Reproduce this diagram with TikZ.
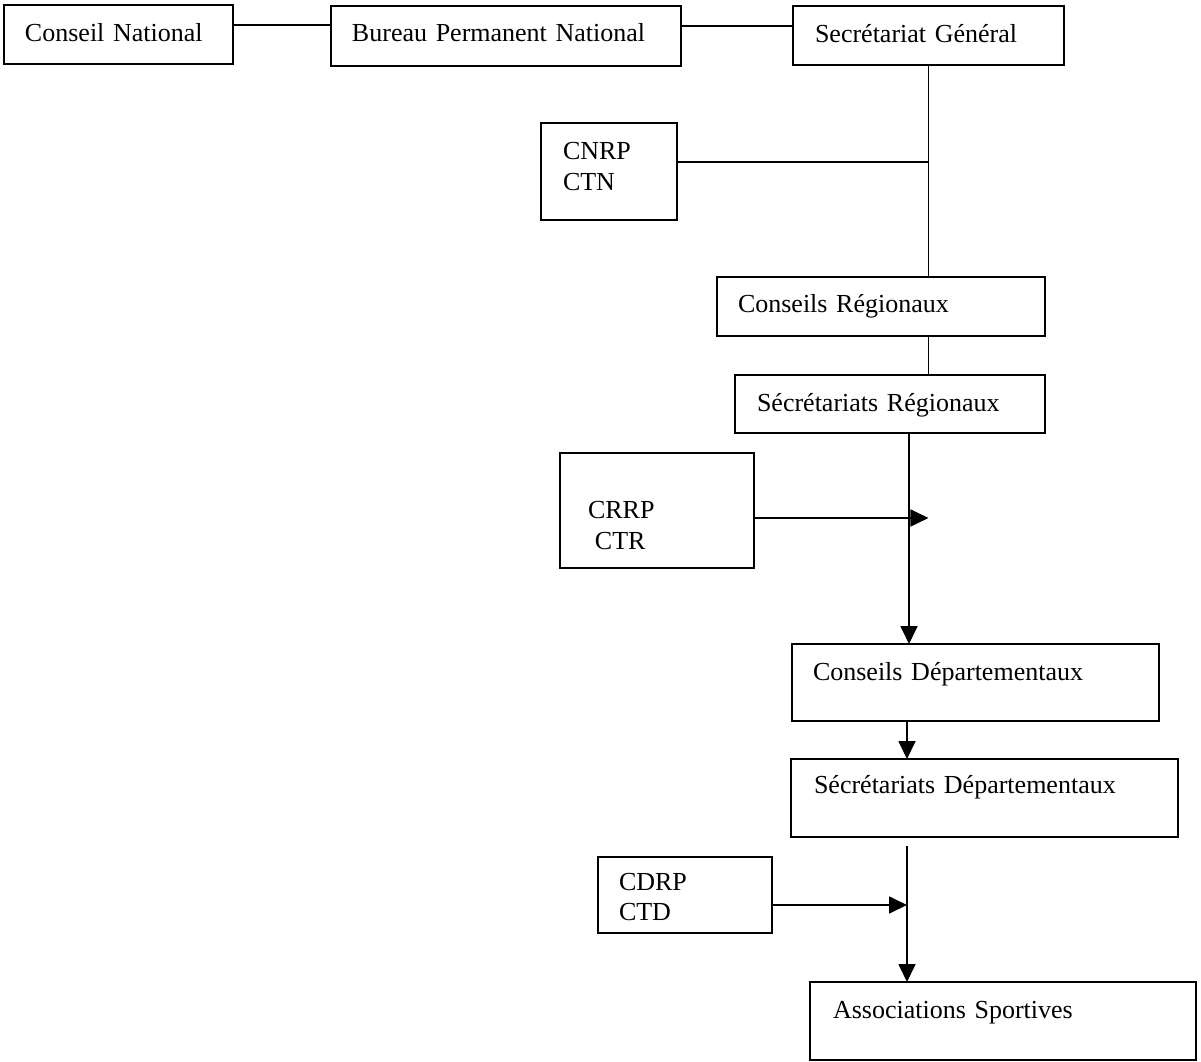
\documentclass[tikz,border=0pt]{standalone}
\usepackage{fontspec}
\newfontfamily\boxfont{Liberation Serif}
\usepackage{tikz}
\usetikzlibrary{arrows.meta}
\tikzset {>={Triangle[length=0.36cm,width=0.34cm]}}
\tikzset{box/.style n args={4}{draw, line width=1pt, anchor=north west, outer sep=0pt,
  inner ysep=0pt, inner xsep=#1, text width=#2, text height=#3, text depth=#4,
  align=left, font={\boxfont\fontsize{14.8}{17.6}\selectfont}},
  link/.style={line width=1pt}}

\begin{document}
\begin{tikzpicture}[x=0.02cm,y=-0.02cm]
\useasboundingbox (0,0) rectangle (1201,1062);

\node[box={0.42cm}{3.74cm}{0.74cm}{0.44cm}] (cn) at (4,5) {Conseil National};
\node[box={0.42cm}{6.16cm}{0.72cm}{0.48cm}] (bpn) at (331,6) {Bureau Permanent National};
\node[box={0.44cm}{4.54cm}{0.74cm}{0.44cm}] (sg) at (793,6) {Secrétariat Général};

\node[box={0.44cm}{1.84cm}{0.74cm}{1.20cm}] (cnrp) at (541,123) {CNRP\\CTN};
\node[box={0.42cm}{5.72cm}{0.72cm}{0.46cm}] (cr) at (717,277) {Conseils Régionaux};
\node[box={0.44cm}{5.32cm}{0.74cm}{0.42cm}] (sr) at (735,375) {Sécrétariats Régionaux};

\node[box={0.56cm}{2.76cm}{1.32cm}{0.98cm}] (crrp) at (560,453) {CRRP\\\hspace*{0.14cm}CTR};
\node[box={0.42cm}{6.50cm}{0.72cm}{0.82cm}] (cd) at (792,644) {Conseils Départementaux};
\node[box={0.46cm}{6.82cm}{0.68cm}{0.88cm}] (sd) at (791,759) {Sécrétariats Départementaux};

\node[box={0.42cm}{2.64cm}{0.66cm}{0.86cm}] (cdrp) at (598,857) {CDRP\\CTD};
\node[box={0.46cm}{6.80cm}{0.72cm}{0.84cm}] (as) at (810,982) {Associations Sportives};

\coordinate (rtrunk) at (909,0);
\coordinate (dtrunk) at (907,0);

% national level
\draw[link] ([yshift=0.19cm]cn.east) -- ([yshift=0.19cm]cn.east -| bpn.west);
\draw[link] ([yshift=0.2cm]bpn.east) -- ([yshift=0.2cm]bpn.east -| sg.west);
\draw[line width=0.6pt] (sg.south) -- (sg.south |- cr.north);
\draw[line width=0.6pt] ([yshift=0.19cm]cnrp.east) -- ([yshift=0.19cm]cnrp.east -| sg.south);

% regional level
\draw[link] (sg.south |- cr.south) -- (sg.south |- sr.north);
\draw[link,->] (rtrunk |- sr.south) -- (rtrunk |- cd.north);
\draw[link,->] ([yshift=-0.15cm]crrp.east) -- ([yshift=-0.15cm]crrp.east -| sg.south);

% departmental level
\draw[link,->] (dtrunk |- cd.south) -- (dtrunk |- sd.north);
\draw[link,->] ([yshift=-0.18cm]dtrunk |- sd.south) -- (dtrunk |- as.north);
\draw[link,->] ([yshift=-0.2cm]cdrp.east) -- ([yshift=-0.2cm]cdrp.east -| dtrunk);
\end{tikzpicture}
\end{document}
